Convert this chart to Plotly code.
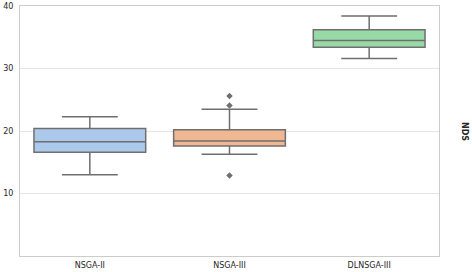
import plotly.graph_objects as go

categories = ["NSGA-II", "NSGA-III", "DLNSGA-III"]
q1_vals = [16.6, 17.6, 33.4]
median_vals = [18.3, 18.4, 34.5]
q3_vals = [20.4, 20.2, 36.2]
lower_whisker = [13.0, 16.3, 31.6]
upper_whisker = [22.3, 23.5, 38.4]
outlier_cats = ["NSGA-III", "NSGA-III", "NSGA-III"]
outlier_vals = [25.6, 24.1, 12.9]
y_ticks = [10, 20, 30, 40]
y_label = "NDS"

fill_colors = ["#abc9ea", "#efb792", "#98daa7"]
line_color = "#6f6f6f"

fig = go.Figure()
for i, cat in enumerate(categories):
    fig.add_trace(go.Box(
        x=[cat], q1=[q1_vals[i]], median=[median_vals[i]], q3=[q3_vals[i]],
        lowerfence=[lower_whisker[i]], upperfence=[upper_whisker[i]],
        boxpoints=False, fillcolor=fill_colors[i], width=0.8,
        line=dict(color=line_color, width=1.5), whiskerwidth=0.5,
        showlegend=False, hoverinfo="skip",
    ))

fig.add_trace(go.Scatter(
    x=outlier_cats, y=outlier_vals, mode="markers",
    marker=dict(symbol="diamond", size=5, color=line_color),
    showlegend=False, hoverinfo="skip", cliponaxis=False,
))

fig.update_layout(
    width=472, height=272,
    margin=dict(l=20, r=33, t=6, b=16, autoexpand=False),
    paper_bgcolor="white", plot_bgcolor="white",
    font=dict(family="DejaVu Sans", size=8, color="#262626"),
    boxmode="overlay",
)
fig.update_xaxes(
    type="category", categoryorder="array", categoryarray=categories,
    range=[-0.5, len(categories) - 0.5],
    showgrid=False, showline=True, mirror=True, linecolor="#cccccc", linewidth=1,
    ticks="outside", ticklen=1, tickcolor="rgba(0,0,0,0)", zeroline=False,
    automargin=False,
)
fig.update_yaxes(
    range=[0, 40], tickvals=y_ticks, showgrid=True, gridcolor="#e5e5e5", gridwidth=1,
    showline=True, mirror=True, linecolor="#cccccc", linewidth=1,
    ticks="outside", ticklen=4, tickcolor="rgba(0,0,0,0)", zeroline=False,
    automargin=False,
)
fig.add_annotation(
    xref="paper", yref="paper", x=1, y=0.5, xshift=26, xanchor="center", yanchor="middle",
    showarrow=False,
    text="<b>" + y_label + "</b>", textangle=90, font=dict(size=8, color="#262626"),
)

fig.write_html(
    "out.html",
    config={"displayModeBar": False},
    post_script="document.body.style.margin='0';document.body.style.overflow='hidden';",
)
